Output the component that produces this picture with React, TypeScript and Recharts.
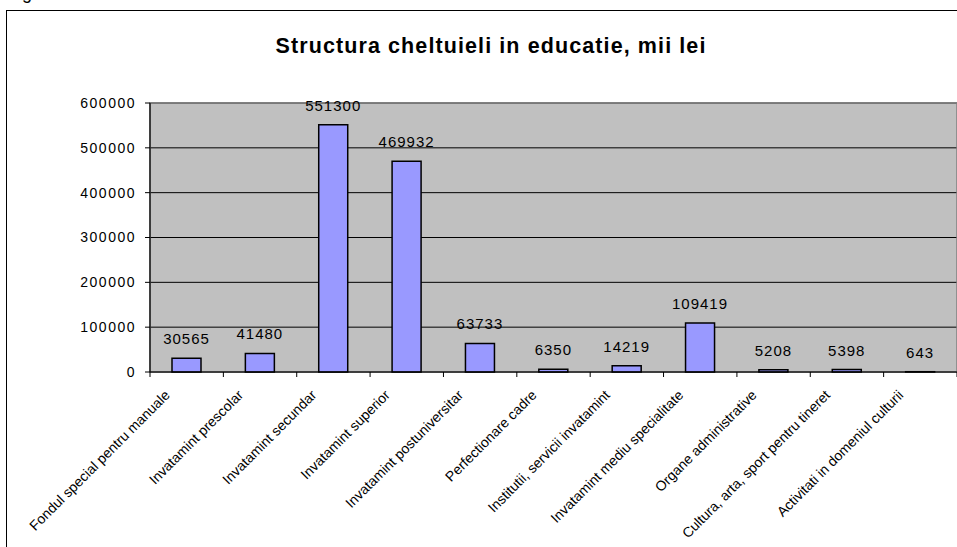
import React from 'react';
import { BarChart, Bar, XAxis, YAxis, CartesianGrid, LabelList, ReferenceArea } from 'recharts';

const categories = [
  'Fondul special pentru manuale',
  'Invatamint prescolar',
  'Invatamint secundar',
  'Invatamint superior',
  'Invatamint postuniversitar',
  'Perfectionare cadre',
  'Institutii, servicii invatamint',
  'Invatamint mediu specialitate',
  'Organe administrative',
  'Cultura, arta, sport pentru tineret',
  'Activitati in domeniul culturii',
];
const values = [30565, 41480, 551300, 469932, 63733, 6350, 14219, 109419, 5208, 5398, 643];
const yTicks = [0, 100000, 200000, 300000, 400000, 500000, 600000];
const title = 'Structura cheltuieli in educatie, mii lei';

const data = categories.map((name, i) => ({ name, value: values[i] }));

const W = 957;
const H = 547;
const M = { top: 103, right: 0, bottom: 0, left: 0 };
const Y_W = 150;
const X_H = 175;
const PLOT_W = W - M.left - M.right - Y_W;
const BAND = PLOT_W / categories.length;
const FONT = 'Arial, "Liberation Sans", sans-serif';

const XTick = (props: any) => {
  const { x, y, payload, index } = props;
  const ax = x - 16;
  const ay = y + 24;
  return (
    <g>
      <line x1={x - BAND / 2} x2={x - BAND / 2} y1={y} y2={y + 5} stroke="#000" strokeWidth={1} />
      {index === categories.length - 1 && (
        <line x1={x + BAND / 2} x2={x + BAND / 2} y1={y} y2={y + 5} stroke="#000" strokeWidth={1} />
      )}
      <text
        x={ax}
        y={ay}
        textAnchor="end"
        fill="#000"
        fontSize={14}
        fontFamily={FONT}
        transform={`rotate(-45, ${ax}, ${ay})`}
      >
        {payload.value}
      </text>
    </g>
  );
};

export default function App() {
  return (
    <div
      style={{
        position: 'fixed',
        left: 0,
        top: 0,
        width: W,
        height: H,
        overflow: 'hidden',
        background: '#fff',
        fontFamily: FONT,
      }}
    >
      <div
        style={{
          position: 'absolute',
          left: 6,
          top: 10,
          right: 0,
          bottom: 0,
          borderLeft: '1.5px solid #000',
          borderTop: '1.5px solid #000',
        }}
      />
      <svg width={W} height={60} style={{ position: 'absolute', left: 0, top: 0 }}>
        <text x={22} y={-1} fontSize={18} fontFamily={FONT} fill="#000">g</text>
        <text
          x={491}
          y={52.5}
          textAnchor="middle"
          fontSize={21.5}
          fontWeight="bold"
          fontFamily={FONT}
          letterSpacing={1.1}
          fill="#000"
        >
          {title}
        </text>
      </svg>
      <div style={{ position: 'absolute', left: 0, top: 0 }}>
        <BarChart width={W} height={H} data={data} margin={M} barCategoryGap="30%">
          <CartesianGrid vertical={false} stroke="#000" strokeWidth={1} fill="#C0C0C0" fillOpacity={1} />
          <ReferenceArea
            x1={categories[0]}
            x2={categories[categories.length - 1]}
            y1={0}
            y2={600000}
            fill="none"
            fillOpacity={0}
            stroke="#808080"
            strokeWidth={1.5}
            ifOverflow="visible"
          />
          <XAxis
            dataKey="name"
            height={X_H}
            interval={0}
            tickSize={0}
            tickMargin={0}
            tickLine={false}
            axisLine={{ stroke: '#000', strokeWidth: 1.2 }}
            tick={<XTick />}
          />
          <YAxis
            width={Y_W}
            domain={[0, 600000]}
            ticks={yTicks}
            interval={0}
            tickSize={5}
            tickMargin={9}
            axisLine={{ stroke: '#000', strokeWidth: 1.2 }}
            tickLine={{ stroke: '#000' }}
            tick={{ fill: '#000', fontSize: 14, letterSpacing: 1.5, fontFamily: FONT }}
          />
          <Bar
            dataKey="value"
            fill="#9999FF"
            stroke="#000"
            strokeWidth={1.5}
            barSize={29}
            isAnimationActive={false}
          >
            <LabelList
              dataKey="value"
              position="top"
              offset={14}
              fill="#000"
              fontSize={15}
              letterSpacing={1}
              fontFamily={FONT}
            />
          </Bar>
        </BarChart>
      </div>
    </div>
  );
}
